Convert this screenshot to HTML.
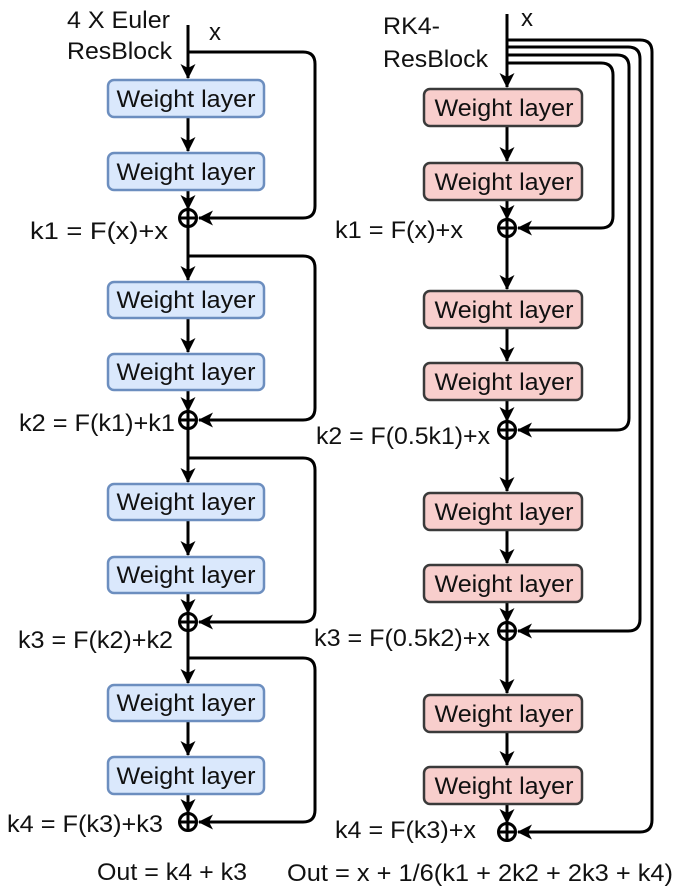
<!DOCTYPE html>
<html><head><style>body{margin:0;background:#fff}svg{display:block}text{font-family:"Liberation Sans",Arial,sans-serif;font-size:24px;fill:#111}</style></head>
<body>
<svg width="679" height="895" viewBox="0 0 679 895" xmlns="http://www.w3.org/2000/svg">
<defs><marker id="a" viewBox="0 0 15 15" refX="14" refY="7.5" markerWidth="15" markerHeight="15" orient="auto" markerUnits="userSpaceOnUse"><path d="M0,0 L15,7.5 L0,15 L4,7.5 Z" fill="#000"/></marker></defs>
<g stroke="#000" stroke-width="3" fill="none">
<path d="M188 25 V78" marker-end="url(#a)"/>
<path d="M188 117 V151" marker-end="url(#a)"/>
<path d="M188 190 V209" marker-end="url(#a)"/>
<path d="M188 227 V280" marker-end="url(#a)"/>
<path d="M188 318 V352" marker-end="url(#a)"/>
<path d="M188 390 V411" marker-end="url(#a)"/>
<path d="M188 429 V482" marker-end="url(#a)"/>
<path d="M188 520 V555" marker-end="url(#a)"/>
<path d="M188 593 V613" marker-end="url(#a)"/>
<path d="M188 631 V683" marker-end="url(#a)"/>
<path d="M188 721 V755" marker-end="url(#a)"/>
<path d="M188 794 V813" marker-end="url(#a)"/>
<path d="M188 52 H303 Q315 52 315 64 V206 Q315 218 303 218 H199" marker-end="url(#a)"/>
<path d="M188 256 H303 Q315 256 315 268 V408 Q315 420 303 420 H199" marker-end="url(#a)"/>
<path d="M188 458 H303 Q315 458 315 470 V610 Q315 622 303 622 H199" marker-end="url(#a)"/>
<path d="M188 658 H303 Q315 658 315 670 V810 Q315 822 303 822 H199" marker-end="url(#a)"/>
<path d="M507 14 V87" marker-end="url(#a)"/>
<path d="M507 126 V161" marker-end="url(#a)"/>
<path d="M507 200 V219" marker-end="url(#a)"/>
<path d="M507 237 V289" marker-end="url(#a)"/>
<path d="M507 328 V361" marker-end="url(#a)"/>
<path d="M507 400 V421" marker-end="url(#a)"/>
<path d="M507 439 V491" marker-end="url(#a)"/>
<path d="M507 530 V563" marker-end="url(#a)"/>
<path d="M507 602 V622" marker-end="url(#a)"/>
<path d="M507 640 V693" marker-end="url(#a)"/>
<path d="M507 732 V765" marker-end="url(#a)"/>
<path d="M507 804 V823" marker-end="url(#a)"/>
<path d="M507 63 H601 Q613 63 613 75 V216 Q613 228 601 228 H518" marker-end="url(#a)"/>
<path d="M507 55 H617 Q629 55 629 67 V418 Q629 430 617 430 H518" marker-end="url(#a)"/>
<path d="M507 47 H628 Q640 47 640 59 V619 Q640 631 628 631 H518" marker-end="url(#a)"/>
<path d="M507 40 H640 Q652 40 652 52 V820 Q652 832 640 832 H518" marker-end="url(#a)"/>
</g>
<g fill="#dae8fc" stroke="#6c8ebf" stroke-width="2.5">
<rect x="108" y="80" width="156" height="37" rx="6"/>
<rect x="108" y="153" width="156" height="37" rx="6"/>
<rect x="108" y="282" width="156" height="36" rx="6"/>
<rect x="108" y="354" width="156" height="36" rx="6"/>
<rect x="108" y="484" width="156" height="36" rx="6"/>
<rect x="108" y="557" width="156" height="36" rx="6"/>
<rect x="108" y="685" width="156" height="36" rx="6"/>
<rect x="108" y="757" width="156" height="37" rx="6"/>
</g>
<g fill="#f8cecc" stroke="#3a3a3a" stroke-width="2.5">
<rect x="424" y="89" width="158" height="37" rx="6"/>
<rect x="424" y="163" width="158" height="37" rx="6"/>
<rect x="424" y="291" width="158" height="37" rx="6"/>
<rect x="424" y="363" width="158" height="37" rx="6"/>
<rect x="424" y="493" width="158" height="37" rx="6"/>
<rect x="424" y="565" width="158" height="37" rx="6"/>
<rect x="424" y="695" width="158" height="37" rx="6"/>
<rect x="424" y="767" width="158" height="37" rx="6"/>
</g>
<g text-anchor="middle">
<text x="186" y="107" textLength="139" lengthAdjust="spacingAndGlyphs">Weight layer</text><text x="186" y="180" textLength="139" lengthAdjust="spacingAndGlyphs">Weight layer</text>
<text x="186" y="308" textLength="139" lengthAdjust="spacingAndGlyphs">Weight layer</text><text x="186" y="380" textLength="139" lengthAdjust="spacingAndGlyphs">Weight layer</text>
<text x="186" y="510" textLength="139" lengthAdjust="spacingAndGlyphs">Weight layer</text><text x="186" y="583" textLength="139" lengthAdjust="spacingAndGlyphs">Weight layer</text>
<text x="186" y="711" textLength="139" lengthAdjust="spacingAndGlyphs">Weight layer</text><text x="186" y="784" textLength="139" lengthAdjust="spacingAndGlyphs">Weight layer</text>
<text x="504" y="116" textLength="139" lengthAdjust="spacingAndGlyphs">Weight layer</text><text x="504" y="190" textLength="139" lengthAdjust="spacingAndGlyphs">Weight layer</text>
<text x="504" y="318" textLength="139" lengthAdjust="spacingAndGlyphs">Weight layer</text><text x="504" y="390" textLength="139" lengthAdjust="spacingAndGlyphs">Weight layer</text>
<text x="504" y="520" textLength="139" lengthAdjust="spacingAndGlyphs">Weight layer</text><text x="504" y="592" textLength="139" lengthAdjust="spacingAndGlyphs">Weight layer</text>
<text x="504" y="722" textLength="139" lengthAdjust="spacingAndGlyphs">Weight layer</text><text x="504" y="794" textLength="139" lengthAdjust="spacingAndGlyphs">Weight layer</text>
</g>
<g stroke="#000" stroke-width="3" fill="#fff">
<g><circle cx="188" cy="218" r="8.5"/><path d="M179.5 218H196.5M188 209.5V226.5"/></g>
<g><circle cx="188" cy="420" r="8.5"/><path d="M179.5 420H196.5M188 411.5V428.5"/></g>
<g><circle cx="188" cy="622" r="8.5"/><path d="M179.5 622H196.5M188 613.5V630.5"/></g>
<g><circle cx="188" cy="822" r="8.5"/><path d="M179.5 822H196.5M188 813.5V830.5"/></g>
<g><circle cx="507" cy="228" r="8.5"/><path d="M498.5 228H515.5M507 219.5V236.5"/></g>
<g><circle cx="507" cy="430" r="8.5"/><path d="M498.5 430H515.5M507 421.5V438.5"/></g>
<g><circle cx="507" cy="631" r="8.5"/><path d="M498.5 631H515.5M507 622.5V639.5"/></g>
<g><circle cx="507" cy="832" r="8.5"/><path d="M498.5 832H515.5M507 823.5V840.5"/></g>
</g>
<g>
<text x="67" y="28" textLength="103" lengthAdjust="spacingAndGlyphs">4 X Euler</text><text x="67" y="59" textLength="105" lengthAdjust="spacingAndGlyphs">ResBlock</text>
<text x="209" y="40">x</text>
<text x="383" y="34" textLength="57" lengthAdjust="spacingAndGlyphs">RK4-</text><text x="383" y="67" textLength="105" lengthAdjust="spacingAndGlyphs">ResBlock</text>
<text x="521" y="26">x</text>
<text x="30" y="239" textLength="138" lengthAdjust="spacingAndGlyphs">k1 = F(x)+x</text>
<text x="19" y="431" textLength="156" lengthAdjust="spacingAndGlyphs">k2 = F(k1)+k1</text>
<text x="18" y="648" textLength="155" lengthAdjust="spacingAndGlyphs">k3 = F(k2)+k2</text>
<text x="7" y="832" textLength="156" lengthAdjust="spacingAndGlyphs">k4 = F(k3)+k3</text>
<text x="97" y="880" textLength="150" lengthAdjust="spacingAndGlyphs">Out = k4 + k3</text>
<text x="335" y="238" textLength="128" lengthAdjust="spacingAndGlyphs">k1 = F(x)+x</text>
<text x="316" y="444" textLength="174" lengthAdjust="spacingAndGlyphs">k2 = F(0.5k1)+x</text>
<text x="314" y="646" textLength="176" lengthAdjust="spacingAndGlyphs">k3 = F(0.5k2)+x</text>
<text x="335" y="838" textLength="141" lengthAdjust="spacingAndGlyphs">k4 = F(k3)+x</text>
<text x="287" y="881" textLength="386" lengthAdjust="spacingAndGlyphs">Out = x + 1/6(k1 + 2k2 + 2k3 + k4)</text>
</g>
</svg>
</body></html>
